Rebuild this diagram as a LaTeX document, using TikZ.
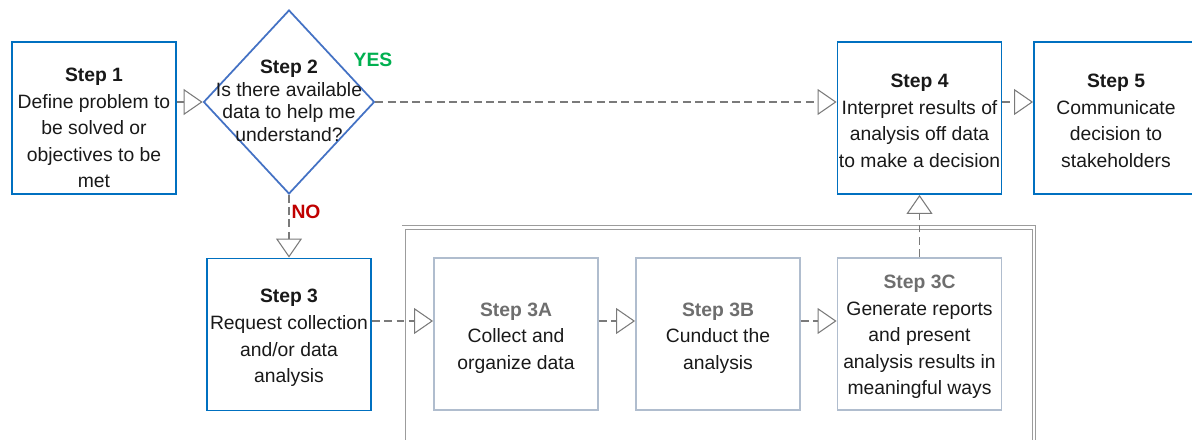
\documentclass[tikz,border=0pt]{standalone}
\usepackage{fontspec}
\setmainfont{Liberation Sans}
\usetikzlibrary{arrows.meta,shapes.geometric}
\definecolor{stepblue}{HTML}{0070C0}
\definecolor{diamblue}{HTML}{4472C4}
\definecolor{subgray}{HTML}{B0BDCE}
\definecolor{titlegray}{HTML}{6E6E6E}
\definecolor{linegray}{HTML}{7A7A7A}
\definecolor{framegray}{HTML}{9C9C9C}
\definecolor{yesgreen}{HTML}{00B050}
\definecolor{nored}{HTML}{C00000}
\begin{document}
\begin{tikzpicture}[x=0.02cm,y=-0.02cm,
  txt/.style={font=\fontsize{11pt}{15.1pt}\selectfont, align=center, text=black!90},
  stepbox/.style={txt, draw=stepblue, line width=1.1pt, minimum width=3.28cm, minimum height=3.04cm, inner sep=0pt},
  subbox/.style={stepbox, draw=subgray},
  flow/.style={draw=linegray, line width=0.8pt, dash pattern=on 4.5pt off 2.5pt,
    -{Triangle[open, length=0.38cm, width=0.52cm, line width=0.6pt]}}]
\useasboundingbox (0,0) rectangle (1192,439);

\draw[draw=framegray, double=white, double distance=0.045cm, line width=0.5pt]
  (403.5,480) |- (1034,227.5) -- (1034,480);

\node[stepbox] (s1) at (94,118) {};
\node[txt] (s1txt) at (94,128) {\textbf{Step 1}\\Define problem to\\be solved or\\objectives to be\\met};

\node[diamond, draw=diamblue, line width=1pt, minimum width=3.42cm, minimum height=3.68cm, inner sep=0pt] (s2) at (289,102) {};
\node[txt, font=\fontsize{11pt}{12.8pt}\selectfont] (s2txt) at (289,101) {\textbf{Step 2}\\Is there available\\data to help me\\understand?};

\node[stepbox] (s4) at (919.5,118) {};
\node[txt] (s4txt) at (919.5,121) {\textbf{Step 4}\\Interpret results of\\analysis off data\\to make a decision};
\node[stepbox] (s5) at (1116,118) {};
\node[txt] (s5txt) at (1116,121) {\textbf{Step 5}\\Communicate\\decision to\\stakeholders};

\node[stepbox] (s3) at (289,334.5) {};
\node[txt] (s3txt) at (289,338) {\textbf{Step 3}\\Request collection\\and/or data\\analysis};
\node[subbox] (s3a) at (516,334) {};
\node[txt] (s3atxt) at (516,338) {\textcolor{titlegray}{\textbf{Step 3A}}\\Collect and\\organize data};
\node[subbox] (s3b) at (718,334) {};
\node[txt] (s3btxt) at (718,338) {\textcolor{titlegray}{\textbf{Step 3B}}\\Cunduct the\\analysis};
\node[subbox] (s3c) at (919.5,334) {};
\node[txt] (s3ctxt) at (919.5,337) {\textcolor{titlegray}{\textbf{Step 3C}}\\Generate reports\\and present\\analysis results in\\meaningful ways};

\node[txt, font=\fontsize{11pt}{13pt}\selectfont\bfseries, text=yesgreen] (yes) at (373,60) {YES};
\node[txt, font=\fontsize{11pt}{13pt}\selectfont\bfseries, text=nored] (no) at (306,212) {NO};

\coordinate (midrow) at (0,321);
\draw[flow] (s1.east |- s2.west) -- (s2.west);
\draw[flow] (s2.east) -- (s4.west |- s2.east);
\draw[flow] (s4.east |- s2.east) -- (s5.west |- s2.east);
\draw[flow] (s2.south) -- (s3.north);
\draw[flow] (s3.east |- midrow) -- (s3a.west |- midrow);
\draw[flow] (s3a.east |- midrow) -- (s3b.west |- midrow);
\draw[flow] (s3b.east |- midrow) -- (s3c.west |- midrow);
\draw[flow] (s3c.north) -- (s4.south);

\end{tikzpicture}
\end{document}
